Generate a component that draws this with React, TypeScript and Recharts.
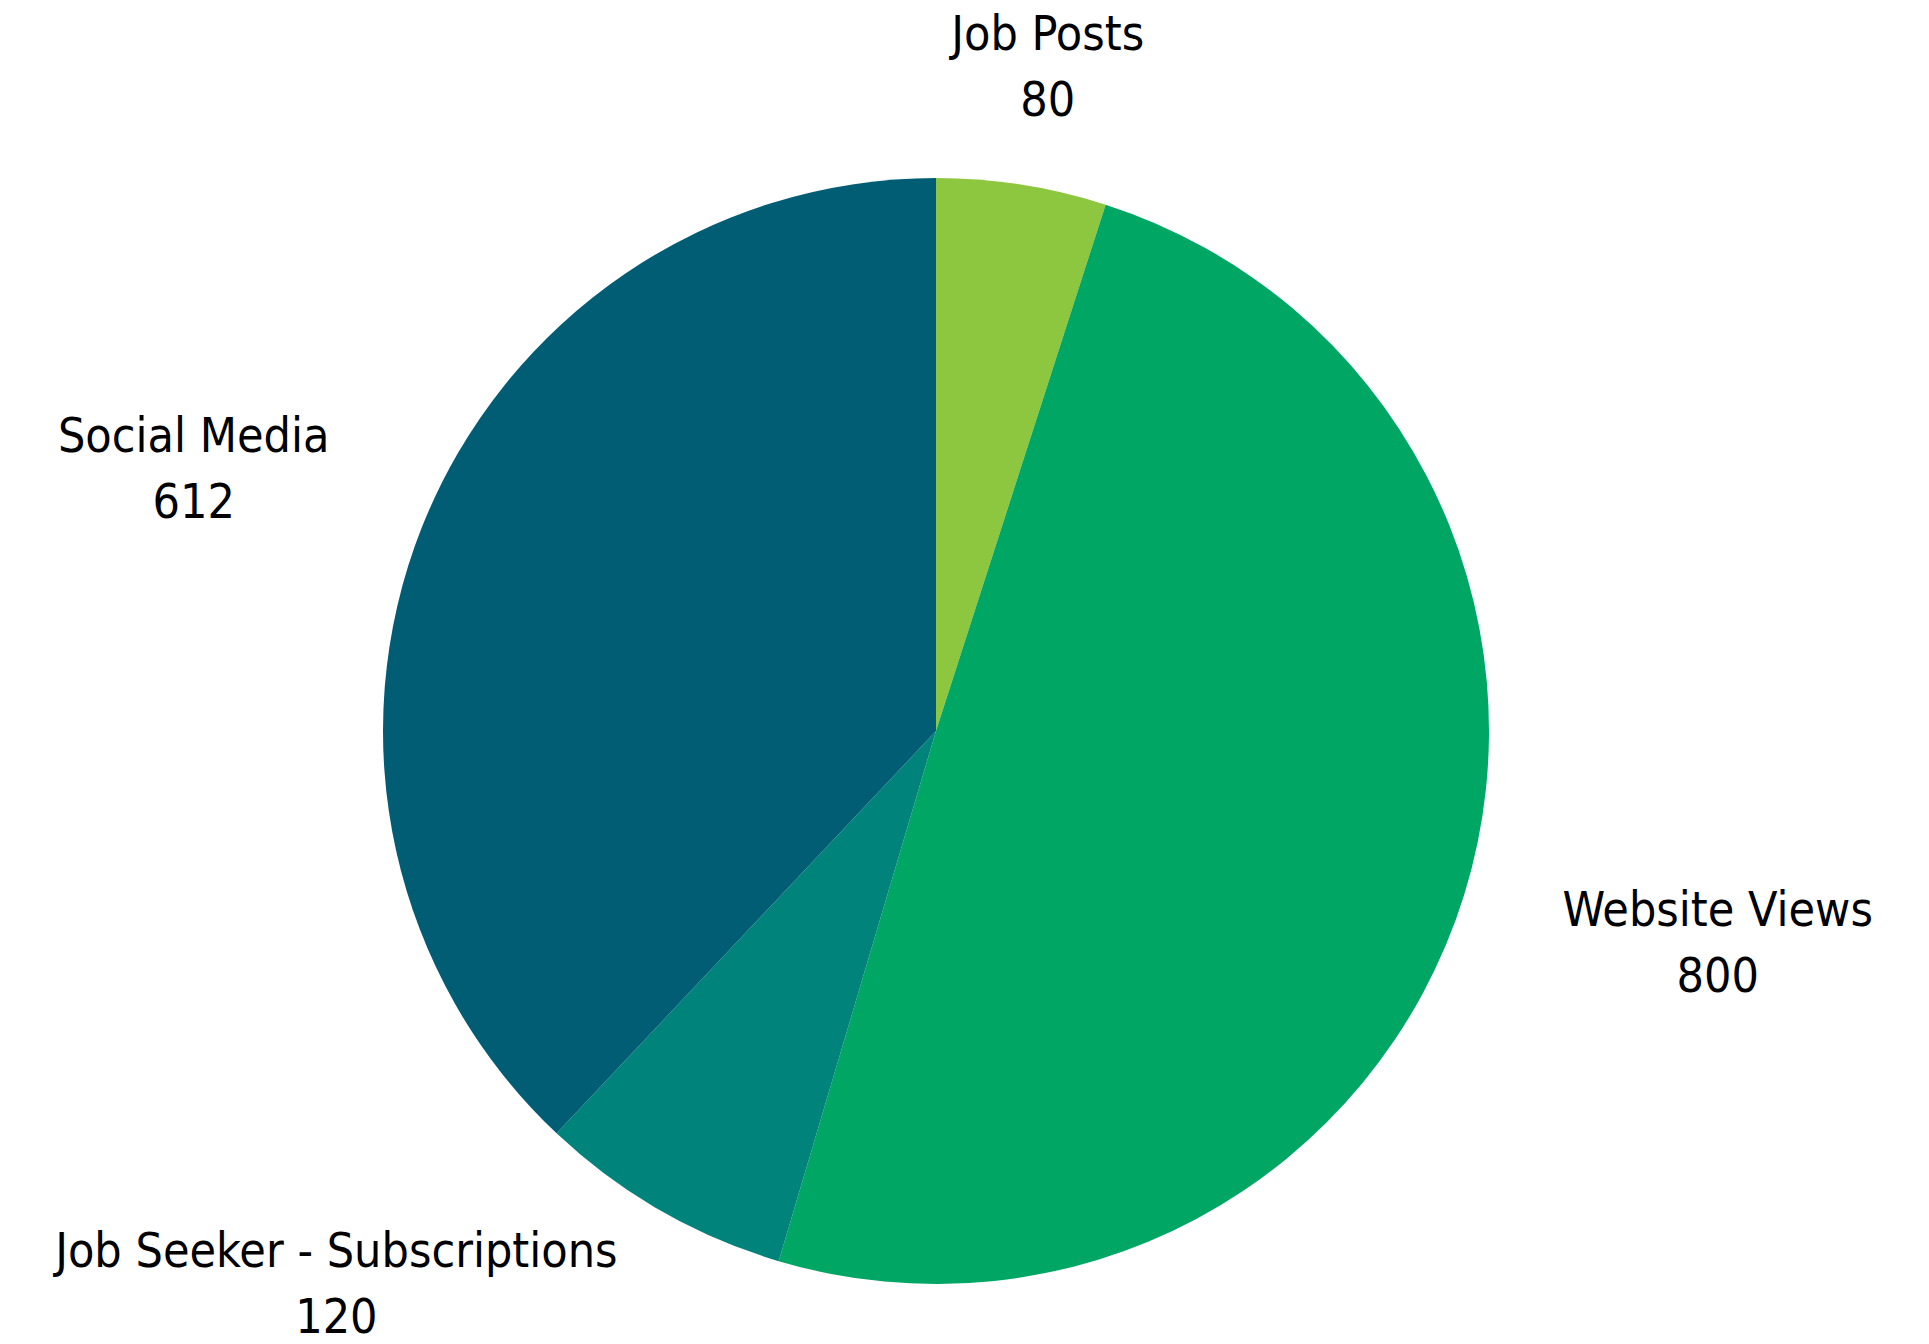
import React from 'react';
import { PieChart, Pie, Cell } from 'recharts';

const categories = ['Job Posts', 'Website Views', 'Job Seeker - Subscriptions', 'Social Media'];
const counts = [80, 800, 120, 612];
const sliceColors = ['#8DC63F', '#00A664', '#00837A', '#005D74'];

const data = categories.map((name, i) => ({ name, value: counts[i] }));

const W = 1929;
const H = 1344;
const FONT_SIZE = 48;
const FONT = "'DejaVu Sans Condensed', 'DejaVu Sans', sans-serif";
const CAP = 35; // cap height of the label font
const LINE = 66; // baseline to baseline
const GAP = 110;
const MIN_GAP = 60;
const TOP = 15;
const BOTTOM = H - 8;
const RAD = Math.PI / 180;

let ctx: CanvasRenderingContext2D | null = null;
function textWidth(s: string) {
  if (!ctx) ctx = document.createElement('canvas').getContext('2d');
  if (!ctx) return s.length * FONT_SIZE * 0.55;
  ctx.font = `${FONT_SIZE}px ${FONT}`;
  return ctx.measureText(s).width;
}

// label box sits just outside the slice, its near corner on the mid-angle ray
function boxAt(cx: number, cy: number, R: number, angle: number, w: number, h: number) {
  const ux = Math.cos(angle * RAD);
  const uy = -Math.sin(angle * RAD);
  return { x: cx + R * ux + (ux * w) / 2, y: cy + R * uy + (uy * h) / 2 };
}

const fits = (b: { y: number }, h: number) => b.y - h / 2 >= TOP && b.y + h / 2 <= BOTTOM;

function placeLabel(cx: number, cy: number, r: number, mid: number, w: number, h: number) {
  // first pull the label in, then slide it round the pie if that is not enough
  for (let g = GAP; g >= MIN_GAP; g -= 1) {
    const b = boxAt(cx, cy, r + g, mid, w, h);
    if (fits(b, h)) return b;
  }
  const toward = Math.cos(mid * RAD) < 0 ? (mid > 0 ? 180 : -180) : 0;
  const step = toward > mid ? 0.5 : -0.5;
  let a = mid;
  let b = boxAt(cx, cy, r + GAP, a, w, h);
  while (!fits(b, h) && Math.abs(toward - a) > 0.5) {
    a += step;
    b = boxAt(cx, cy, r + GAP, a, w, h);
  }
  return b;
}

const renderLabel = (props: any) => {
  const { cx, cy, midAngle, outerRadius, name, value } = props;
  const w = Math.max(textWidth(String(name)), textWidth(String(value)));
  const h = CAP + LINE;
  const b = placeLabel(cx, cy, outerRadius, midAngle, w, h);
  const top = b.y - h / 2;
  return (
    <g>
      <text x={b.x} y={top + CAP} textAnchor="middle" fontFamily={FONT} fontSize={FONT_SIZE} fill="#000">
        {name}
      </text>
      <text x={b.x} y={top + CAP + LINE} textAnchor="middle" fontFamily={FONT} fontSize={FONT_SIZE} fill="#000">
        {value}
      </text>
    </g>
  );
};

export default function App() {
  return (
    <div style={{ position: 'absolute', left: 0, top: 0, width: W, height: H, background: '#fff' }}>
      <PieChart width={W} height={H} margin={{ top: 0, right: 0, bottom: 0, left: 0 }}>
        <Pie
          data={data}
          dataKey="value"
          nameKey="name"
          cx={936}
          cy={731}
          outerRadius={553}
          startAngle={90}
          endAngle={-270}
          stroke="none"
          label={renderLabel}
          labelLine={false}
          isAnimationActive={false}
        >
          {data.map((d, i) => (
            <Cell key={d.name} fill={sliceColors[i]} />
          ))}
        </Pie>
      </PieChart>
    </div>
  );
}
